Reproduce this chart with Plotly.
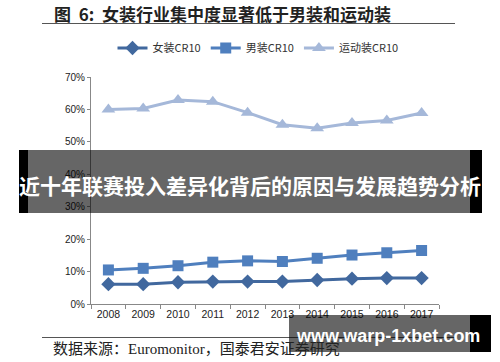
import plotly.graph_objects as go

years = ["2008", "2009", "2010", "2011", "2012", "2013", "2014", "2015", "2016", "2017"]
women_cr10 = [0.061, 0.061, 0.067, 0.069, 0.069, 0.069, 0.074, 0.078, 0.080, 0.080]
men_cr10 = [0.105, 0.110, 0.118, 0.129, 0.133, 0.131, 0.141, 0.151, 0.158, 0.165]
sports_cr10 = [0.600, 0.603, 0.629, 0.624, 0.590, 0.553, 0.542, 0.558, 0.566, 0.589]
y_ticks = [0, 0.1, 0.2, 0.3, 0.4, 0.5, 0.6, 0.7]

W, H = 500, 362
L, R, T, B = 91, 439, 77, 304


def px(x):
    return (x - L) / (R - L)


def py(y):
    return (B - y) / (B - T)


fig = go.Figure()
fig.add_trace(go.Scatter(x=years, y=women_cr10, name="女装CR10", mode="lines+markers",
                         line=dict(color="#41689E", width=3),
                         marker=dict(symbol="diamond", size=11, color="#41689E")))
fig.add_trace(go.Scatter(x=years, y=men_cr10, name="男装CR10", mode="lines+markers",
                         line=dict(color="#4F7FBE", width=3),
                         marker=dict(symbol="square", size=11, color="#4F7FBE")))
fig.add_trace(go.Scatter(x=years, y=sports_cr10, name="运动装CR10", mode="lines+markers",
                         line=dict(color="#A5B8D9", width=3),
                         marker=dict(symbol="triangle-up", size=12, color="#A5B8D9")))

shapes = [
    # title underline
    dict(type="line", xref="paper", yref="paper", x0=px(42), x1=px(455), y0=py(23.5), y1=py(23.5),
         line=dict(color="#555555", width=1.2), layer="above"),
    # source rule
    dict(type="line", xref="paper", yref="paper", x0=px(42), x1=px(455), y0=py(337.5), y1=py(337.5),
         line=dict(color="#555555", width=1.2), layer="above"),
    # banner
    dict(type="rect", xref="paper", yref="paper", x0=px(28), x1=px(470), y0=py(213), y1=py(150),
         fillcolor="rgba(0,0,0,0.6)", line=dict(width=0), layer="above"),
    dict(type="rect", xref="paper", yref="paper", x0=px(19), x1=px(28), y0=py(213), y1=py(150),
         fillcolor="black", line=dict(width=0), layer="above"),
    dict(type="rect", xref="paper", yref="paper", x0=px(470), x1=px(482), y0=py(213), y1=py(150),
         fillcolor="black", line=dict(width=0), layer="above"),
    # watermark box
    dict(type="rect", xref="paper", yref="paper", x0=px(289), x1=px(470), y0=py(352), y1=py(315),
         fillcolor="rgba(0,0,0,0.6)", line=dict(width=0), layer="above"),
    dict(type="rect", xref="paper", yref="paper", x0=px(470), x1=px(491), y0=py(352), y1=py(315),
         fillcolor="black", line=dict(width=0), layer="above"),
]

annotations = [
    dict(text="<b>图  6:  女装行业集中度显著低于男装和运动装</b>", xref="paper", yref="paper",
         x=px(52), y=py(13), xanchor="left", yanchor="middle", showarrow=False,
         font=dict(family="Noto Sans CJK SC", size=17, color="#222222")),
    dict(text="数据来源：Euromonitor，国泰君安证券研究", xref="paper", yref="paper",
         x=px(51), y=py(349), xanchor="left", yanchor="middle", showarrow=False,
         font=dict(family="Liberation Serif, Noto Sans CJK SC", size=15, color="#222222")),
    dict(text="<b>近十年联赛投入差异化背后的原因与发展趋势分析</b>", xref="paper", yref="paper",
         x=px(250), y=py(185), xanchor="center", yanchor="middle", showarrow=False,
         font=dict(family="Noto Sans CJK SC", size=21, color="white")),
    dict(text="<b>www.warp-1xbet.com</b>", xref="paper", yref="paper",
         x=px(388), y=py(336), xanchor="center", yanchor="middle", showarrow=False,
         font=dict(family="Liberation Sans, Arial", size=18, color="white")),
]

fig.update_layout(
    width=W, height=H,
    margin=dict(l=L, r=W - R, t=T, b=H - B, pad=0),
    paper_bgcolor="white", plot_bgcolor="white",
    showlegend=True,
    legend=dict(orientation="h", x=px(258), y=py(48), xanchor="center", yanchor="middle",
                font=dict(family="Noto Sans CJK SC", size=11, color="#333333"),
                itemwidth=30, tracegroupgap=0, bgcolor="rgba(0,0,0,0)"),
    shapes=shapes,
    annotations=annotations,
    xaxis=dict(type="category", range=[-0.5, 9.5], tickson="boundaries", ticks="outside", ticklen=4,
               tickcolor="#888888", showline=True, linecolor="#888888", linewidth=1, showgrid=False,
               tickfont=dict(family="Liberation Sans, Arial", size=10.5, color="#222222")),
    yaxis=dict(range=[0, 0.7], tickvals=y_ticks, tickformat=".0%", ticks="outside", ticklen=3,
               tickcolor="#888888", showline=True, linecolor="#888888", linewidth=1, showgrid=False,
               zeroline=False,
               tickfont=dict(family="Liberation Sans, Arial", size=10, color="#222222")),
)

fig.write_html("out.html")
